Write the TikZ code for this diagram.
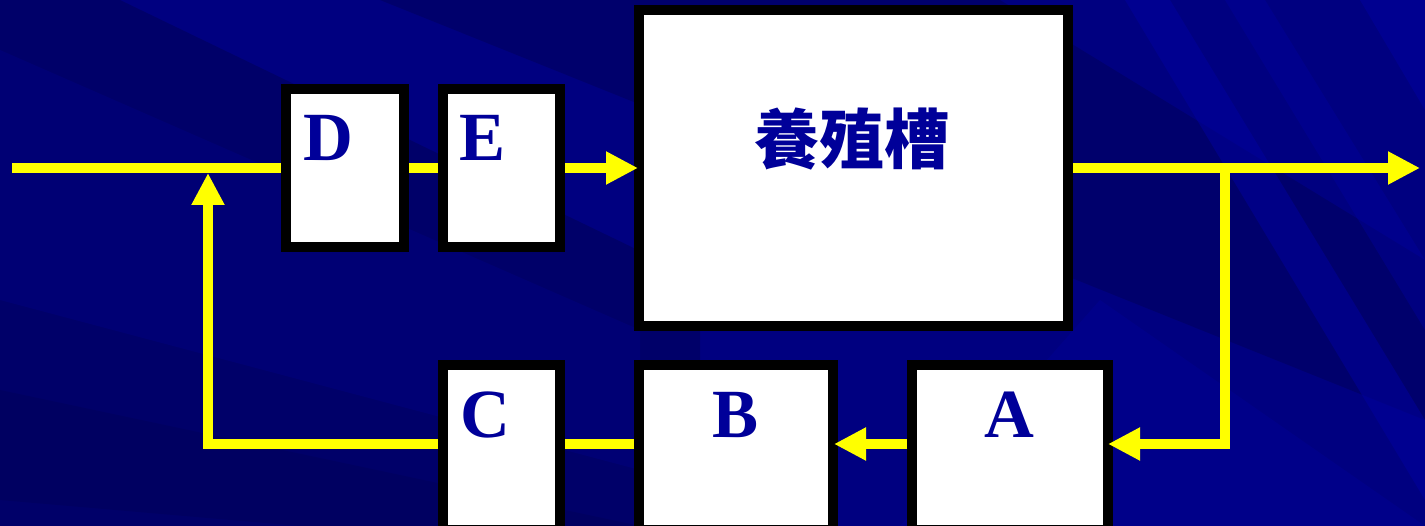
\documentclass[tikz,border=0pt]{standalone}
\usepackage{fontspec}
\setmainfont{Liberation Serif}
\newfontfamily\cjk{Noto Sans CJK TC}
\usetikzlibrary{arrows.meta}
\definecolor{bgnavy}{RGB}{0,0,128}
\definecolor{bgdark}{RGB}{0,0,90}
\definecolor{bglight}{RGB}{0,0,160}
\definecolor{letterblue}{RGB}{0,0,153}
\definecolor{pipeyellow}{RGB}{255,255,0}
\tikzset{
  box/.style={draw=black, line width=10pt, fill=white, inner sep=0pt},
  pipe/.style={draw=pipeyellow, line width=10pt},
  flow/.style={pipe, -{Triangle[length=32pt,width=31pt]}},
  tag/.style={font=\fontsize{69}{69}\selectfont\bfseries, text=letterblue, inner sep=0pt, anchor=base}
}
\begin{document}
\begin{tikzpicture}[x=1pt,y=-1pt]
    \clip (0,0) rectangle (1425,526);
    \useasboundingbox (0,0) rectangle (1425,526);
    %% Background
    \fill[bgnavy] (0,0) rectangle (1425,526);
    \fill[bgdark, opacity=.6] (0,0) -- (120,0) -- (700,280) -- (700,526) -- (0,526) -- cycle;
    \fill[bgnavy, opacity=.5] (0,50) -- (0,300) -- (640,470) -- (640,330) -- cycle;
    \fill[bgdark, opacity=.5] (0,390) -- (0,500) -- (300,526) -- (640,526) -- cycle;
    \fill[bgdark, opacity=.5] (380,0) -- (1000,0) -- (1425,260) -- (1425,420) -- cycle;
    \fill[bglight, opacity=.5] (1125,0) -- (1170,0) -- (1425,420) -- (1425,500) -- cycle;
    \fill[bglight, opacity=.4] (1225,0) -- (1265,0) -- (1425,260) -- (1425,330) -- cycle;
    \fill[bglight, opacity=.5] (1360,0) -- (1425,0) -- (1425,110) -- cycle;
    \fill[bglight, opacity=.3] (900,526) -- (1100,300) -- (1425,526) -- cycle;
    %% Boxes
    \node[box, minimum width=118pt, minimum height=158pt] (D) at (345,168) {};
    \node[box, minimum width=117pt, minimum height=158pt] (E) at (501.5,168) {};
    \node[box, minimum width=429pt, minimum height=316pt] (tank) at (853.5,168) {};
    \node[box, minimum width=117pt, minimum height=165pt] (C) at (501.5,447.5) {};
    \node[box, minimum width=194pt, minimum height=165pt] (B) at (736,447.5) {};
    \node[box, minimum width=196pt, minimum height=165pt] (A) at (1010,447.5) {};
    %% Labels
    \node[tag] (tD) at (328,161) {D};
    \node[tag] (tE) at (483,161) {E};
    \node[tag] (tC) at (485,438) {C};
    \node[tag] (tB) at (736,438) {B};
    \node[tag] (tA) at (1009,438) {A};
    \node[font=\cjk\bfseries\fontsize{65}{65}\selectfont, text=letterblue, inner sep=0pt] (tT) at (852,139) {養殖槽};
    %% Pipes
    \coordinate (in) at (12,168);
    \coordinate (join) at (208,168);
    \coordinate (back) at (208,444);
    \coordinate (split) at (1225,168);
    \coordinate (turn) at (1225,444);
    \coordinate (out) at (1420,168);
    \draw[pipe] (in) -- (D.west);
    \draw[pipe] (D.east) -- (E.west);
    \draw[flow, shorten >=-4pt] (E.east) -- (tank.west);
    \draw[flow] (tank.east) -- (out);
    \draw[flow, shorten >=-5pt] (split) -- (turn) -- (A.east |- turn);
    \draw[flow, shorten >=-4pt] (A.west |- turn) -- (B.east |- turn);
    \draw[pipe] (B.west |- turn) -- (C.east |- turn);
    \draw[flow, shorten >=5pt] (C.west |- turn) -- (back) -- (join);
\end{tikzpicture}
\end{document}
